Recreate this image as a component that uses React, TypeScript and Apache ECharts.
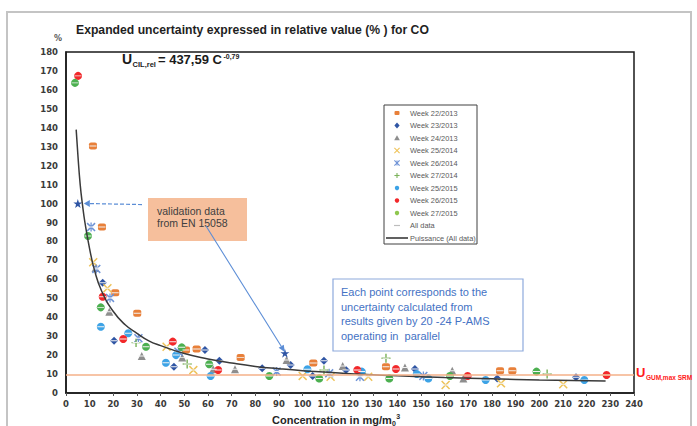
import React, { useEffect, useRef } from 'react';
import * as echarts from 'echarts';

type Pt = [number, number];

// ---- Data (x: concentration mg/m0^3, y: %) ----
const week22_2013: Pt[] = [[11.4, 130.4], [15.2, 87.6], [20.8, 52.9], [30.1, 42.1], [50.7, 22.7], [55.2, 23.2], [73.8, 18.8], [104.5, 15.8], [135.2, 13.9], [183.4, 11.8], [188.6, 11.8]];
const week23_2013: Pt[] = [[15.5, 58.2], [20.3, 27.6], [45.6, 13.9], [58.7, 22.7], [64.8, 17], [82.9, 13], [94.9, 14.8], [104.2, 9], [109, 17], [118.3, 12.1], [147.4, 12.7], [182.2, 7.7], [215.5, 8.3]];
const week24_2013: Pt[] = [[12.5, 66], [18.3, 42.9], [32, 19.5], [49.1, 18.8], [62.2, 12.5], [71.4, 12.5], [93.2, 17.4], [116.9, 14.3], [143.2, 13.4], [163.2, 11.8], [167.9, 7.7]];
const week25_2014: Pt[] = [[11.5, 69], [17.5, 55.3], [42.5, 24.4], [53.8, 12.1], [100, 9], [111.8, 8.6], [127.7, 8.6], [160.4, 4.2], [183.8, 5.1], [210.1, 4.6]];
const week26_2014: Pt[] = [[10.6, 87.6], [12.8, 65.5], [18.6, 50.2], [30.6, 28.9], [47.5, 21.8], [89, 11.3], [111.2, 10.4], [124.2, 8.6], [151, 9]];
const week27_2014: Pt[] = [[29.6, 26.6], [51.2, 15.3], [109, 12.1], [135.2, 18.3], [203.3, 10]];
const week25_2015: Pt[] = [[14.7, 35], [26.3, 31.5], [42.2, 16], [46.5, 20], [61.1, 9], [102, 12.5], [125, 11.3], [148.2, 10], [153.1, 7.7], [177.3, 6.9], [219, 6.9]];
const week26_2015: Pt[] = [[5.1, 167.4], [15.5, 50.8], [24.2, 28.5], [45.1, 27.1], [64.3, 12.1], [123.1, 12.1], [139.4, 12.7], [169.7, 9], [228.4, 9.5]];
const week27_2015: Pt[] = [[3.8, 163.7], [9.3, 82.9], [14.7, 45.2], [33.8, 24.4], [48.9, 24.1], [60.5, 15.2], [85.9, 9], [107, 7.7], [136.6, 7.7], [162.2, 9], [198.8, 11.3]];
const validationData: Pt[] = [[5, 100], [92.5, 21]];

// Power trend line ("Puissance (All data)")
const fitX = [4.3, 5, 6, 7, 8, 10, 12, 15, 20, 25, 30, 35, 40, 50, 60, 70, 80, 90, 100, 120, 140, 160, 180, 200, 228];
const fitY = [139, 126, 110, 99, 90, 76, 65, 54, 43, 36, 31.5, 27.5, 25, 20.8, 18, 15.8, 14, 12.8, 11.8, 10.2, 9.1, 8.2, 7.5, 6.9, 6.3];

const uGumMaxSrm = 9.7;

const xMin = 0, xMax = 240, xStep = 10;
const yMin = 0, yMax = 180, yStep = 10;

const legendNames = ['Week 22/2013', 'Week 23/2013', 'Week 24/2013', 'Week 25/2014', 'Week 26/2014', 'Week 27/2014', 'Week 25/2015', 'Week 26/2015', 'Week 27/2015', 'All data', 'Puissance (All data)'];

const C22 = '#E8803A', C23 = '#2F55A4', C24 = '#8E8E8E', C25a = '#EEC35A', C26a = '#6E93D6', C27a = '#7DB35C', C25b = '#3DA3E6', C26b = '#F2282A', C27b = '#4CB050', CALL = '#F2F2F2', CFIT = '#3a3a3a';

const SYM_X = 'path://M1.2,0L5,3.8L8.8,0L10,1.2L6.2,5L10,8.8L8.8,10L5,6.2L1.2,10L0,8.8L3.8,5L0,1.2Z';
const SYM_PLUS = 'path://M4.2,0H5.8V4.2H10V5.8H5.8V10H4.2V5.8H0V4.2H4.2Z';
const SYM_AST = 'path://M1.2,0L5,3.8L8.8,0L10,1.2L6.2,5L10,8.8L8.8,10L5,6.2L1.2,10L0,8.8L3.8,5L0,1.2Z M4.3,0H5.7V10H4.3Z';
const SYM_DASH = 'path://M0,4.3H10V5.7H0Z M0,0H0.01V0.01H0Z M9.99,9.99H10V10H9.99Z';
const SYM_STAR = 'path://M5,0L6.2,3.6H10L6.9,5.8L8.1,9.5L5,7.2L1.9,9.5L3.1,5.8L0,3.6H3.8Z';

const measureCtx = typeof document !== 'undefined' ? document.createElement('canvas').getContext('2d') : null;
function tw(text: string, font: string): number {
  if (!measureCtx) return text.length * 6;
  measureCtx.font = font;
  return measureCtx.measureText(text).width;
}

const FF = '"Liberation Sans", Arial, sans-serif';
const AXF = '"DejaVu Sans", Verdana, sans-serif';

function legendMarker(i: number, cx: number, cy: number): any[] {
  const s = 2.6;
  const ln = (x1: number, y1: number, x2: number, y2: number, c: string, w = 1.1) =>
    ({ type: 'line', z: 11, shape: { x1, y1, x2, y2 }, style: { stroke: c, lineWidth: w } });
  switch (i) {
    case 0: return [{ type: 'rect', z: 11, shape: { x: cx - 2.5, y: cy - 2, width: 5, height: 4, r: 1 }, style: { fill: C22 } }];
    case 1: return [{ type: 'polygon', z: 11, shape: { points: [[cx, cy - 3], [cx + 2.6, cy], [cx, cy + 3], [cx - 2.6, cy]] }, style: { fill: C23 } }];
    case 2: return [{ type: 'polygon', z: 11, shape: { points: [[cx, cy - 2.8], [cx + 2.8, cy + 2.2], [cx - 2.8, cy + 2.2]] }, style: { fill: C24 } }];
    case 3: return [ln(cx - s, cy - s, cx + s, cy + s, C25a), ln(cx - s, cy + s, cx + s, cy - s, C25a)];
    case 4: return [ln(cx - s, cy - s, cx + s, cy + s, C26a), ln(cx - s, cy + s, cx + s, cy - s, C26a), ln(cx, cy - s, cx, cy + s, C26a)];
    case 5: return [ln(cx - s, cy, cx + s, cy, C27a), ln(cx, cy - s, cx, cy + s, C27a)];
    case 6: return [{ type: 'circle', z: 11, shape: { cx, cy, r: 2.2 }, style: { fill: C25b } }];
    case 7: return [{ type: 'circle', z: 11, shape: { cx, cy, r: 2.2 }, style: { fill: C26b } }];
    case 8: return [{ type: 'circle', z: 11, shape: { cx, cy, r: 2.2 }, style: { fill: '#8FC74F' } }];
    case 9: return [ln(cx - 3, cy, cx + 3, cy, '#BDBDBD', 1.2)];
    default: return [ln(cx - 11, cy, cx + 11, cy, CFIT, 1.6)];
  }
}

export default function App() {
  const ref = useRef<HTMLDivElement>(null);

  useEffect(() => {
    if (!ref.current) return;
    const chart = echarts.init(ref.current, null, { renderer: 'svg' });

    const scatter = (name: string, data: Pt[], symbol: string, size: any, color: string, z = 2) => ({
      name, type: 'scatter', data, symbol, symbolSize: size, z,
      itemStyle: { color, opacity: 1 },
      emphasis: { disabled: true },
    });

    const allData: Pt[] = ([] as Pt[]).concat(
      week22_2013, week23_2013, week24_2013, week25_2014, week26_2014,
      week27_2014, week25_2015, week26_2015, week27_2015
    );

    const option: any = {
      animation: false,
      grid: { left: 66, right: 63, top: 52, bottom: 33, show: true, borderColor: '#1a1a1a', borderWidth: 1.5 },
      xAxis: {
        type: 'value', min: xMin, max: xMax, interval: xStep,
        axisLine: { show: true, lineStyle: { color: '#1a1a1a', width: 1.5 } },
        axisTick: { show: true, length: 3, lineStyle: { color: '#555' } },
        splitLine: { show: false },
        axisLabel: { color: '#3a3a3a', fontFamily: AXF, fontWeight: 'bold', fontSize: 8.5, margin: 6 },
      },
      yAxis: {
        type: 'value', min: yMin, max: yMax, interval: yStep,
        axisLine: { show: true, lineStyle: { color: '#1a1a1a', width: 1.5 } },
        axisTick: { show: false },
        splitLine: { show: false },
        axisLabel: { color: '#3a3a3a', fontFamily: AXF, fontWeight: 'bold', fontSize: 8.5, margin: 8 },
      },
      series: [
        scatter(legendNames[0], week22_2013, 'roundRect', [8, 7], C22),
        scatter(legendNames[1], week23_2013, 'diamond', 8, C23),
        scatter(legendNames[2], week24_2013, 'triangle', 8, C24),
        scatter(legendNames[3], week25_2014, SYM_X, 9, C25a),
        scatter(legendNames[4], week26_2014, SYM_AST, 9, C26a),
        scatter(legendNames[5], week27_2014, SYM_PLUS, 9, C27a),
        scatter(legendNames[6], week25_2015, 'circle', 8, C25b),
        scatter(legendNames[7], week26_2015, 'circle', 8, C26b),
        scatter(legendNames[8], week27_2015, 'circle', 8, C27b),
        scatter(legendNames[9], allData, SYM_DASH, 7, CALL, 3),
        scatter('validation data', validationData, SYM_STAR, 9, C23, 3),
        {
          name: legendNames[10], type: 'line', smooth: true, symbol: 'none', z: 4,
          data: fitX.map((x, i) => [x, fitY[i]]),
          lineStyle: { color: CFIT, width: 1.5 },
          itemStyle: { color: CFIT },
          emphasis: { disabled: true },
          markLine: {
            silent: true, symbol: ['none', 'none'], label: { show: false },
            lineStyle: { color: '#F5B088', width: 1.5, type: 'solid' },
            data: [{ yAxis: uGumMaxSrm }],
          },
        },
      ],
    };
    chart.setOption(option);

    const p1 = chart.convertToPixel({ xAxisIndex: 0, yAxisIndex: 0 }, validationData[0]) as number[];
    const p2 = chart.convertToPixel({ xAxisIndex: 0, yAxisIndex: 0 }, validationData[1]) as number[];

    const arrowBlue = '#5B8DD6';
    const t1x = p1[0] + 6, t1y = p1[1];
    const s2x = 206, s2y = 226;
    const t2x = p2[0], t2y = p2[1] - 1;
    const dx = t2x - s2x, dy = t2y - s2y; const dl = Math.hypot(dx, dy);
    const ux = dx / dl, uy = dy / dl;
    const bx = t2x - ux * 7, by = t2y - uy * 7;

    const fU = `bold 14px ${FF}`, fSub = `bold 7.5px ${FF}`, fMain = `bold 13px ${FF}`, fSup = `bold 7px ${FF}`;
    const xU = 122;
    const xSub = xU + tw('U', fU) + 0.5;
    const xMain = xSub + tw('CIL,rel', fSub) + 2;
    const xSup = xMain + tw('= 437,59 C', fMain) + 1.5;

    const fAx = `bold 11px ${FF}`, fAxSmall = `bold 7px ${FF}`;
    const xAxName = 272;
    const xAxEnd = xAxName + tw('Concentration in mg/m', fAx);

    const fG = `bold 13px ${FF}`;
    const xG = 636;

    const lgX = 384, lgY = 105, lgW = 93, lgH = 139, rowH = 12.5;
    const legendEls: any[] = [
      { type: 'rect', z: 10, shape: { x: lgX, y: lgY, width: lgW, height: lgH }, style: { fill: '#fff', stroke: '#404040', lineWidth: 1 } },
    ];
    legendNames.forEach((name, i) => {
      const cy = lgY + 8 + i * rowH;
      legendEls.push(...legendMarker(i, 397, cy));
      legendEls.push({ type: 'text', z: 11, x: 410, y: cy, style: { text: name, font: `7.4px ${FF}`, fill: '#595959', align: 'left', verticalAlign: 'middle' } });
    });

    const graphic: any[] = [
      { type: 'rect', z: 0, shape: { x: 7, y: 12, width: 684, height: 440 }, style: { fill: 'none', stroke: '#C4C4C4', lineWidth: 2 } },
      { type: 'text', x: 76, y: 30, style: { text: 'Expanded uncertainty expressed in relative value (% ) for CO', font: `bold 12.2px ${FF}`, fill: '#1f1f1f', align: 'left', verticalAlign: 'middle' } },
      { type: 'text', x: 62, y: 38, style: { text: '%', font: `bold 8px ${AXF}`, fill: '#555', align: 'right', verticalAlign: 'middle' } },
      { type: 'text', x: xU, y: 59, style: { text: 'U', font: fU, fill: '#1a1a1a', align: 'left', verticalAlign: 'middle' } },
      { type: 'text', x: xSub, y: 64.5, style: { text: 'CIL,rel', font: fSub, fill: '#1a1a1a', align: 'left', verticalAlign: 'middle' } },
      { type: 'text', x: xMain, y: 59.5, style: { text: '= 437,59 C', font: fMain, fill: '#1a1a1a', align: 'left', verticalAlign: 'middle' } },
      { type: 'text', x: xSup, y: 56, style: { text: '-0,79', font: fSup, fill: '#1a1a1a', align: 'left', verticalAlign: 'middle' } },
      ...legendEls,
      { type: 'rect', z: 5, shape: { x: 148, y: 198, width: 99, height: 43 }, style: { fill: '#F6BF9C', stroke: 'none' } },
      { type: 'text', z: 6, x: 157, y: 211, style: { text: 'validation data', font: `10.5px ${FF}`, fill: '#404040', align: 'left', verticalAlign: 'middle' } },
      { type: 'text', z: 6, x: 157, y: 223, style: { text: 'from EN 15058', font: `10.5px ${FF}`, fill: '#404040', align: 'left', verticalAlign: 'middle' } },
      { type: 'line', z: 6, shape: { x1: 142, y1: t1y + 1, x2: t1x + 5, y2: t1y }, style: { stroke: arrowBlue, lineWidth: 1.2, lineDash: [4, 2] } },
      { type: 'polygon', z: 6, shape: { points: [[t1x, t1y], [t1x + 6, t1y - 3.5], [t1x + 6, t1y + 3.5]] }, style: { fill: arrowBlue } },
      { type: 'line', z: 7, shape: { x1: s2x, y1: s2y, x2: bx, y2: by }, style: { stroke: arrowBlue, lineWidth: 1.1 } },
      { type: 'polygon', z: 7, shape: { points: [[t2x, t2y], [bx - uy * 3, by + ux * 3], [bx + uy * 3, by - ux * 3]] }, style: { fill: arrowBlue } },
      { type: 'rect', z: 5, shape: { x: 333, y: 279, width: 190, height: 72 }, style: { fill: '#fff', stroke: '#8EAADC', lineWidth: 1.2 } },
      { type: 'text', z: 6, x: 341, y: 285, style: { text: 'Each point corresponds to the\nuncertainty calculated from\nresults given by 20 -24 P-AMS\noperating in  parallel', font: `11px ${FF}`, lineHeight: 14.5, fill: '#4472C4', align: 'left', verticalAlign: 'top' } },
      { type: 'text', z: 6, x: xG, y: 372, style: { text: 'U', font: fG, fill: '#FF1A1A', align: 'left', verticalAlign: 'middle' } },
      { type: 'text', z: 6, x: xG + tw('U', fG) + 0.5, y: 377, style: { text: 'GUM,max SRM', font: `bold 6.5px ${FF}`, fill: '#FF1A1A', align: 'left', verticalAlign: 'middle' } },
      { type: 'text', x: xAxName, y: 420, style: { text: 'Concentration in mg/m', font: fAx, fill: '#262626', align: 'left', verticalAlign: 'middle' } },
      { type: 'text', x: xAxEnd + 0.3, y: 423.5, style: { text: '0', font: fAxSmall, fill: '#262626', align: 'left', verticalAlign: 'middle' } },
      { type: 'text', x: xAxEnd + 4.5, y: 416, style: { text: '3', font: fAxSmall, fill: '#262626', align: 'left', verticalAlign: 'middle' } },
    ];
    chart.setOption({ graphic });

    return () => chart.dispose();
  }, []);

  return <div ref={ref} style={{ position: 'fixed', left: 0, top: 0, width: 697, height: 426, background: '#fff' }} />;
}
